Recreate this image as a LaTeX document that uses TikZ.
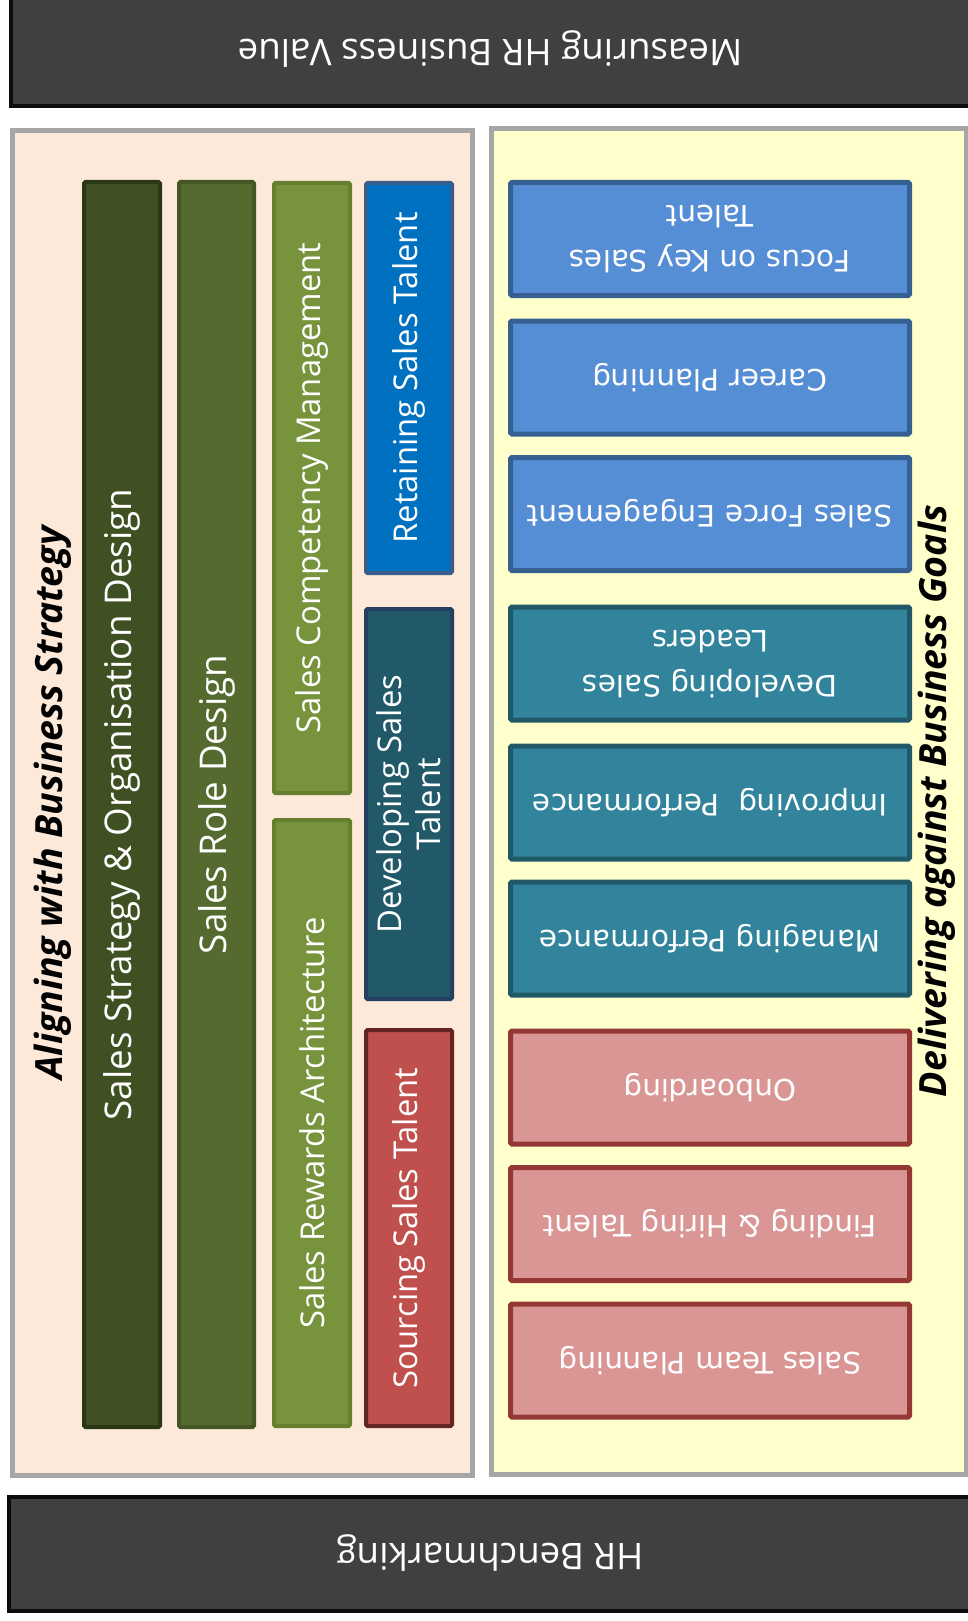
\documentclass[tikz,border=0pt]{standalone}
\usepackage{fontspec}
\setmainfont{Open Sans}
\newfontfamily\dvs{DejaVu Sans}
\definecolor{barfill}{HTML}{404040}
\definecolor{barline}{HTML}{0D0D0D}
\definecolor{leftbg}{HTML}{FDE9D9}
\definecolor{rightbg}{HTML}{FFFFCC}
\definecolor{frame}{HTML}{A6A6A6}
\definecolor{olA}{HTML}{3F5022}
\definecolor{olAl}{HTML}{2A3816}
\definecolor{olB}{HTML}{546A2E}
\definecolor{olBl}{HTML}{435624}
\definecolor{olC}{HTML}{77933C}
\definecolor{olCl}{HTML}{66802F}
\definecolor{retF}{HTML}{0070C0}
\definecolor{retL}{HTML}{385D8A}
\definecolor{devF}{HTML}{215968}
\definecolor{devL}{HTML}{243F60}
\definecolor{souF}{HTML}{C0504D}
\definecolor{souL}{HTML}{632523}
\definecolor{bluF}{HTML}{558ED5}
\definecolor{bluL}{HTML}{376092}
\definecolor{teaF}{HTML}{31849B}
\definecolor{teaL}{HTML}{215968}
\definecolor{pnkF}{HTML}{D99694}
\definecolor{pnkL}{HTML}{953735}
\tikzset{
  bandbox/.style={draw=barline, fill=barfill, line width=4pt},
  bandtext/.style={text=white, inner sep=0pt, rotate=180, font=\fontsize{36.7}{44}\selectfont},
  panel/.style={draw=frame, line width=4.5pt},
  vbar/.style={draw, line width=4pt, rounded corners=1.5pt, text=white, inner sep=0pt, rotate=90, align=center},
  bigtxt/.style={font=\fontsize{36.8}{44}\selectfont},
  smalltxt/.style={font=\fontsize{32.8}{39}\selectfont},
  rbox/.style={draw, line width=5pt, rounded corners=1.5pt, text=white, inner sep=0pt, rotate=180, align=center,
    minimum width=399pt, minimum height=113pt, font=\dvs\fontsize{29.5}{45}\selectfont},
  headline/.style={inner sep=0pt, rotate=90, text=black, font=\bfseries\itshape\fontsize{37.5}{44}\selectfont}
}
\begin{document}
\begin{tikzpicture}[x=1pt,y=-1pt]
\useasboundingbox (0,0) rectangle (968,1621);
\fill[white] (0,0) rectangle (968,1621);
% panels
\draw[panel, fill=leftbg] (12.5,130.5) rectangle (472.5,1475.5);
\draw[panel, fill=rightbg] (491.5,128.5) rectangle (966,1474.5);
% top and bottom bands
\draw[bandbox] (11,-10) rectangle (985,106);
\node[bandtext] (top) at (490,49) {Measuring HR Business Value};
\draw[bandbox] (9,1497) rectangle (985,1611);
\node[bandtext] (bottom) at (490,1553) {HR Benchmarking};
% headlines
\node[headline] (align) at (53,803) {Aligning with Business Strategy};
\node[headline] (deliver) at (937,801) {Delivering against Business Goals};
% left vertical bars
\node[vbar, bigtxt, draw=olAl, fill=olA, minimum width=1245pt, minimum height=76pt] (b1) at (122,804.5) {Sales Strategy \& Organisation Design};
\node[vbar, bigtxt, draw=olBl, fill=olB, minimum width=1245pt, minimum height=75pt] (b2) at (216.5,804.5) {Sales Role Design};
\node[vbar, smalltxt, draw=olCl, fill=olC, minimum width=610pt, minimum height=76pt] (b3a) at (312,488) {Sales Competency Management};
\node[vbar, smalltxt, draw=olCl, fill=olC, minimum width=606pt, minimum height=76pt] (b3b) at (312,1123) {Sales Rewards Architecture};
\node[vbar, smalltxt, draw=retL, fill=retF, minimum width=390pt, minimum height=86pt] (b4a) at (409,378) {Retaining Sales Talent};
\node[vbar, smalltxt, draw=devL, fill=devF, minimum width=390pt, minimum height=86pt] (b4b) at (409,804) {Developing Sales\\Talent};
\node[vbar, smalltxt, draw=souL, fill=souF, minimum width=396pt, minimum height=86pt] (b4c) at (409,1228) {Sourcing Sales Talent};
% right boxes
\node[rbox, draw=bluL, fill=bluF] (r1) at (710,239) {Focus on Key Sales\\Talent};
\node[rbox, draw=bluL, fill=bluF] (r2) at (710,377.5) {Career Planning};
\node[rbox, draw=bluL, fill=bluF] (r3) at (710,514) {Sales Force Engagement};
\node[rbox, draw=teaL, fill=teaF] (r4) at (710,663.5) {Developing Sales\\Leaders};
\node[rbox, draw=teaL, fill=teaF] (r5) at (710,802.5) {Improving\ \ Performance};
\node[rbox, draw=teaL, fill=teaF] (r6) at (710,938.5) {Managing Performance};
\node[rbox, draw=pnkL, fill=pnkF] (r7) at (710,1087.5) {Onboarding};
\node[rbox, draw=pnkL, fill=pnkF] (r8) at (710,1224) {Finding \& Hiring Talent};
\node[rbox, draw=pnkL, fill=pnkF] (r9) at (710,1360.5) {Sales Team Planning};
\end{tikzpicture}
\end{document}
